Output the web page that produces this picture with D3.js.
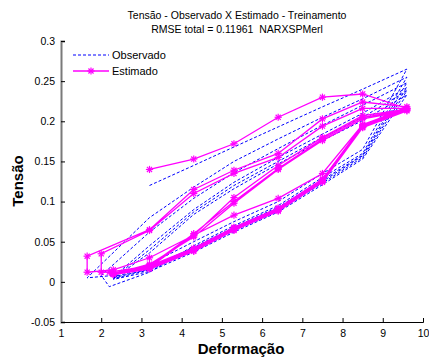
<!DOCTYPE html>
<html>
<head>
<meta charset="utf-8">
<script src="https://cdn.jsdelivr.net/npm/d3@7"></script>
<style>
  html, body { margin: 0; padding: 0; background: #fff; }
  svg { display: block; font-family: "Liberation Sans", Arial, sans-serif; }
</style>
</head>
<body>
<svg id="chart" width="429" height="360"></svg>
<script>
// Deformação sample sequence: loading / unloading cycles
const deformacao = [
  3.2, 4.3, 5.3, 6.4, 7.5, 8.5, 9.6,
  8.5, 7.5, 6.4, 5.3, 4.3, 3.2, 2.3, 1.65,
  1.65, 3.2, 4.3, 5.3, 6.4, 7.5, 8.5, 9.6,
  8.5, 7.5, 6.4, 5.3, 4.3, 3.2, 2.2, 2.0,
  2.0, 3.2, 4.3, 5.3, 6.4, 7.5, 8.5, 9.6,
  8.5, 7.5, 6.4, 5.3, 4.3, 3.2, 2.3,
  2.3, 3.2, 4.3, 5.3, 6.4, 7.5, 8.5, 9.6,
  8.5, 7.5, 6.4, 5.3, 4.3, 3.2, 2.3,
  2.3, 3.2, 4.3, 5.3, 6.4, 7.5, 8.5, 9.6,
  8.5, 7.5, 6.4, 5.3, 4.3, 3.2, 2.3,
  2.3, 3.2, 4.3, 5.3, 6.4, 7.5, 8.5, 9.6,
  8.5, 7.5, 6.4, 5.3, 4.3, 3.2, 2.3
];

// Tensão observada
const observado = [
  0.120, 0.145, 0.168, 0.193, 0.218, 0.240, 0.265,
  0.165, 0.135, 0.100, 0.075, 0.050, 0.022, 0.008, 0.005,
  0.005, 0.080, 0.118, 0.150, 0.178, 0.205, 0.228, 0.255,
  0.160, 0.130, 0.095, 0.070, 0.045, 0.012, -0.006, 0.008,
  0.008, 0.062, 0.104, 0.136, 0.166, 0.195, 0.220, 0.248,
  0.158, 0.127, 0.093, 0.068, 0.043, 0.018, 0.006,
  0.006, 0.045, 0.090, 0.124, 0.155, 0.184, 0.210, 0.242,
  0.157, 0.125, 0.091, 0.066, 0.041, 0.016, 0.005,
  0.005, 0.040, 0.087, 0.120, 0.150, 0.180, 0.205, 0.238,
  0.155, 0.123, 0.089, 0.064, 0.039, 0.015, 0.004,
  0.004, 0.036, 0.084, 0.116, 0.147, 0.176, 0.201, 0.233,
  0.153, 0.121, 0.087, 0.062, 0.037, 0.013, 0.003
];

// Tensão estimada pelo modelo
const estimado = [
  0.140, 0.153, 0.172, 0.205, 0.230, 0.234, 0.216,
  0.196, 0.135, 0.104, 0.083, 0.058, 0.030, 0.015, 0.012,
  0.032, 0.065, 0.115, 0.139, 0.160, 0.203, 0.224, 0.218,
  0.195, 0.128, 0.092, 0.068, 0.042, 0.020, 0.012, 0.012,
  0.035, 0.064, 0.110, 0.135, 0.155, 0.194, 0.216, 0.216,
  0.193, 0.126, 0.090, 0.066, 0.040, 0.018, 0.010,
  0.010, 0.018, 0.058, 0.105, 0.145, 0.180, 0.207, 0.215,
  0.194, 0.127, 0.091, 0.067, 0.041, 0.019, 0.011,
  0.011, 0.020, 0.060, 0.100, 0.141, 0.178, 0.205, 0.214,
  0.193, 0.125, 0.089, 0.065, 0.039, 0.017, 0.010,
  0.010, 0.022, 0.056, 0.098, 0.140, 0.176, 0.203, 0.213,
  0.192, 0.124, 0.088, 0.064, 0.038, 0.016, 0.009
];

const xTicks = [1, 2, 3, 4, 5, 6, 7, 8, 9, 10];
const yTicks = [-0.05, 0, 0.05, 0.1, 0.15, 0.2, 0.25, 0.3];
const yTickLabels = ["-0.05", "0", "0.05", "0.1", "0.15", "0.2", "0.25", "0.3"];

const titleLines = ["Tensão - Observado X Estimado - Treinamento", "RMSE total = 0.11961  NARXSPMerl"];
const seriesNames = ["Observado", "Estimado"];

const svg = d3.select("#chart");
const margin = { left: 61, right: 6, top: 41, bottom: 38 };
const W = 429, H = 360;

const x = d3.scaleLinear().domain([1, 10]).range([margin.left, W - margin.right]);
const y = d3.scaleLinear().domain([-0.05, 0.3]).range([H - margin.bottom, margin.top]);

const pts = deformacao.map((d, i) => ({ x: d, o: observado[i], e: estimado[i] }));

// plot area clip
svg.append("defs").append("clipPath").attr("id", "plotClip")
  .append("rect")
  .attr("x", x(1)).attr("y", y(0.3))
  .attr("width", x(10) - x(1)).attr("height", y(-0.05) - y(0.3));

const plot = svg.append("g").attr("clip-path", "url(#plotClip)");

const lineObs = d3.line().x(d => x(d.x)).y(d => y(d.o));
const lineEst = d3.line().x(d => x(d.x)).y(d => y(d.e));

const BLUE = "#0000ff", MAGENTA = "#ff00ff";

plot.append("path").datum(pts)
  .attr("d", lineObs)
  .attr("fill", "none").attr("stroke", BLUE)
  .attr("stroke-width", 1).attr("stroke-dasharray", "3,2");

plot.append("path").datum(pts)
  .attr("d", lineEst)
  .attr("fill", "none").attr("stroke", MAGENTA)
  .attr("stroke-width", 1.3);

// asterisk markers
function asterisk(sel, r) {
  const a = r * Math.SQRT1_2;
  sel.append("line").attr("x1", -r).attr("x2", r).attr("y1", 0).attr("y2", 0);
  sel.append("line").attr("x1", 0).attr("x2", 0).attr("y1", -r).attr("y2", r);
  sel.append("line").attr("x1", -a).attr("x2", a).attr("y1", -a).attr("y2", a);
  sel.append("line").attr("x1", -a).attr("x2", a).attr("y1", a).attr("y2", -a);
}

plot.append("g").selectAll("g.mk").data(pts).join("g")
  .attr("class", "mk")
  .attr("transform", d => `translate(${x(d.x)},${y(d.e)})`)
  .attr("stroke", MAGENTA).attr("stroke-width", 1.2)
  .each(function () { asterisk(d3.select(this), 3.6); });

// axes
const xAxis = d3.axisBottom(x).tickValues(xTicks).tickSize(-4).tickPadding(8).tickFormat(d3.format("d"));
const yAxis = d3.axisLeft(y).tickValues(yTicks).tickSize(-4).tickPadding(6)
  .tickFormat((d, i) => yTickLabels[i]);

const gx = svg.append("g").attr("transform", `translate(0,${y(-0.05)})`).call(xAxis);
const gy = svg.append("g").attr("transform", `translate(${x(1)},0)`).call(yAxis);

gx.select(".domain").attr("stroke", "#000").attr("stroke-width", 1);
gy.select(".domain").attr("stroke", "#7a7a7a").attr("stroke-width", 2);
[gx, gy].forEach(g => {
  g.selectAll(".tick line").attr("stroke", "#000");
  g.selectAll(".tick text").attr("fill", "#000")
    .style("font-size", "10.5px").style("font-family", "'Liberation Sans', Arial, sans-serif");
});

// title
svg.append("g").selectAll("text").data(titleLines).join("text")
  .attr("x", 237).attr("y", (d, i) => 19 + i * 13.5)
  .attr("text-anchor", "middle")
  .style("font-size", "10.5px").style("white-space", "pre").attr("fill", "#000")
  .text(d => d);

// axis labels
svg.append("text")
  .attr("x", 241).attr("y", 354)
  .attr("text-anchor", "middle")
  .style("font-size", "15px").style("font-weight", "bold")
  .text("Deformação");

svg.append("text")
  .attr("transform", "translate(23,181) rotate(-90)")
  .attr("text-anchor", "middle")
  .style("font-size", "15px").style("font-weight", "bold")
  .text("Tensão");

// legend
const leg = svg.append("g");
const legY = [55, 71];
leg.append("line").attr("x1", 73).attr("x2", 109).attr("y1", legY[0]).attr("y2", legY[0])
  .attr("stroke", BLUE).attr("stroke-width", 1).attr("stroke-dasharray", "3,2");
leg.append("line").attr("x1", 73).attr("x2", 109).attr("y1", legY[1]).attr("y2", legY[1])
  .attr("stroke", MAGENTA).attr("stroke-width", 1.3);
leg.append("g").attr("transform", `translate(91,${legY[1]})`)
  .attr("stroke", MAGENTA).attr("stroke-width", 1.2)
  .call(g => asterisk(g, 3.6));
leg.selectAll("text").data(seriesNames).join("text")
  .attr("x", 112).attr("y", (d, i) => legY[i] + 4)
  .style("font-size", "11px").attr("fill", "#000")
  .text(d => d);
</script>
</body>
</html>
